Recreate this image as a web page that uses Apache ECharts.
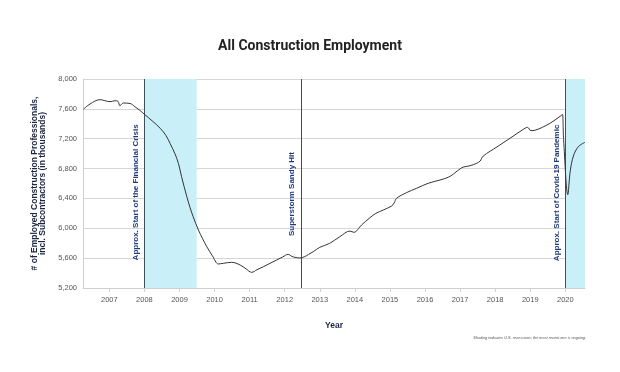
<!DOCTYPE html>
<html><head><meta charset="utf-8">
<script src="https://cdn.jsdelivr.net/npm/echarts@6/dist/echarts.min.js"></script>
<style>html,body{margin:0;padding:0;background:#fff}#c{width:620px;height:372px}</style>
</head><body><div id="c"></div>
<script>
// Year (decimal) and employment (thousands)
const years = [2006.26,2006.45,2006.73,2007.02,2007.16,2007.25,2007.30,2007.40,2007.59,2007.73,2007.87,2008.00,2008.22,2008.45,2008.62,2008.73,2008.87,2008.97,2009.06,2009.21,2009.30,2009.39,2009.54,2009.66,2009.78,2009.94,2010.11,2010.25,2010.49,2010.73,2010.90,2011.06,2011.21,2011.39,2011.58,2011.77,2011.94,2012.10,2012.20,2012.29,2012.43,2012.57,2012.68,2012.81,2013.00,2013.28,2013.57,2013.86,2013.97,2014.19,2014.43,2014.60,2014.81,2015.05,2015.12,2015.19,2015.47,2015.76,2016.09,2016.43,2016.66,2016.81,2017.05,2017.28,2017.47,2017.57,2017.66,2018.05,2018.45,2018.85,2018.92,2019.02,2019.13,2019.56,2019.90,2019.92,2019.95,2020.07,2020.14,2020.23,2020.37,2020.56];
const employment = [7594,7665,7723,7696,7709,7700,7642,7678,7672,7629,7580,7527,7440,7340,7240,7139,7000,6870,6691,6423,6280,6155,5977,5860,5753,5630,5522,5531,5544,5508,5455,5410,5445,5485,5530,5575,5615,5651,5625,5611,5602,5620,5650,5686,5745,5798,5887,5963,5946,6044,6142,6200,6245,6299,6340,6402,6477,6536,6603,6647,6683,6727,6812,6838,6870,6901,6968,7090,7215,7340,7353,7308,7313,7406,7518,7527,7190,6450,6770,6970,7093,7152];
const yearTicks = [2007,2008,2009,2010,2011,2012,2013,2014,2015,2016,2017,2018,2019,2020];
const recessionStarts = [2008.0, 2020.0];
const recessionEnds = [2009.49, 2020.56];
const eventNames = ['Approx. Start of the Financial Crisis','Superstorm Sandy Hit','Approx. Start of Covid-19 Pandemic'];
const eventYears = [2008.0, 2012.47, 2020.0];

const labelBase = [5570, 5896, 5560];
const chart = echarts.init(document.getElementById('c'));
const navy = '#1f3a7c';
chart.setOption({
  animation: false,
  title: [
    {text: 'All Construction Employment', left: 'center', top: 34,
     textStyle: {fontFamily: 'Roboto', fontWeight: 'bold', fontSize: 14, color: '#222'}},
    {text: 'Shading indicates U.S. recessions; the most recent one is ongoing.', right: 34, top: 336, padding: 0,
     textStyle: {fontFamily: 'Liberation Sans', fontStyle: 'italic', fontWeight: 'normal', fontSize: 3.8, color: '#555'}}
  ],
  grid: {left: 83, right: 35, top: 79, bottom: 84},
  xAxis: {
    type: 'value', min: 2006.25, max: 2020.56,
    name: 'Year', nameLocation: 'middle', nameGap: 33,
    nameTextStyle: {fontFamily: 'Liberation Sans', fontWeight: 'bold', fontSize: 8.5, color: '#1c2541'},
    axisLine: {show: true, lineStyle: {color: '#cfcfcf'}},
    axisTick: {show: true, customValues: yearTicks, length: 4, lineStyle: {color: '#cfcfcf'}},
    axisLabel: {customValues: yearTicks, formatter: v => String(Math.round(v)), margin: 8,
      fontFamily: 'Liberation Sans', fontSize: 7.5, color: '#555'},
    splitLine: {show: false}
  },
  yAxis: {
    type: 'value', min: 5200, max: 8000, interval: 400,
    name: '# of Employed Construction Professionals,\nincl. Subcontractors (in thousands)',
    nameLocation: 'middle', nameGap: 29, nameRotate: 90,
    nameTextStyle: {fontFamily: 'Liberation Sans', fontWeight: 'bold', fontSize: 8.5, lineHeight: 8, color: '#1c2541'},
    axisLine: {show: true, lineStyle: {color: '#cfcfcf'}},
    axisTick: {show: false},
    axisLabel: {margin: 6, fontFamily: 'Liberation Sans', fontSize: 7.5, color: '#555',
      formatter: v => v.toLocaleString('en-US')},
    splitLine: {lineStyle: {color: '#d6d6d6'}}
  },
  series: [{
    type: 'line',
    data: years.map((y, i) => [y, employment[i]]),
    showSymbol: false, smooth: 0.35,
    lineStyle: {color: '#333', width: 1},
    z: 5,
    markArea: {
      silent: true,
      itemStyle: {color: '#c9eff9', opacity: 1},
      data: recessionStarts.map((s, i) => [{xAxis: s}, {xAxis: recessionEnds[i]}])
    },
    markLine: {
      silent: true, symbol: ['none', 'none'],
      lineStyle: {color: '#3f4f5a', width: 1, type: 'solid'},
      label: {show: false},
      data: eventYears.map(x => ({xAxis: x}))
    },
    markPoint: {
      silent: true, symbol: 'circle', symbolSize: 0,
      data: eventNames.map((n, i) => ({
        name: n, coord: [eventYears[i], labelBase[i]],
        label: {show: true, formatter: n, rotate: 90, position: [-5, 0], align: 'left', verticalAlign: 'bottom',
          fontFamily: 'Liberation Sans', fontWeight: 'bold', fontSize: 8, color: navy}
      }))
    }
  }]
});
</script></body></html>
